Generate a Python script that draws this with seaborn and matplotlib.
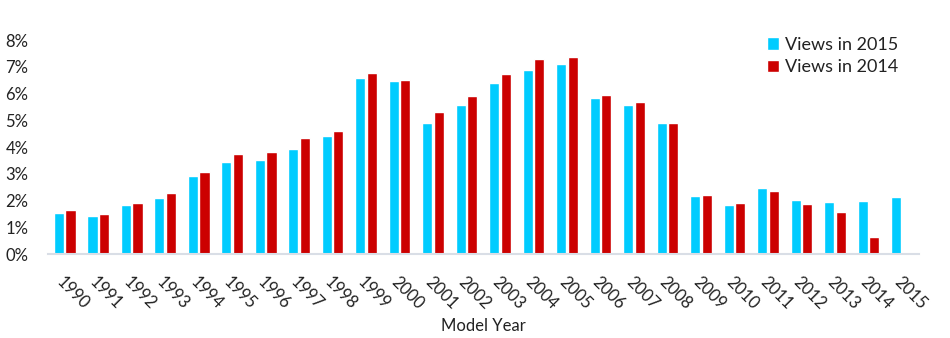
import numpy as np
import pandas as pd
import matplotlib
matplotlib.use("Agg")
import matplotlib.pyplot as plt
import seaborn as sns
from matplotlib.ticker import FuncFormatter

years = [str(y) for y in range(1990, 2016)]
views_2015 = [1.54, 1.43, 1.82, 2.10, 2.93, 3.45, 3.52, 3.94, 4.42, 6.59,
              6.48, 4.88, 5.59, 6.40, 6.88, 7.09, 5.85, 5.58, 4.89, 2.16,
              1.84, 2.48, 2.03, 1.95, 1.98, 2.15]
views_2014 = [1.63, 1.51, 1.92, 2.28, 3.08, 3.74, 3.82, 4.34, 4.61, 6.75,
              6.52, 5.32, 5.89, 6.74, 7.31, 7.38, 5.94, 5.69, 4.89, 2.22,
              1.92, 2.36, 1.87, 1.57, 0.65, np.nan]
series_names = ["Views in 2015", "Views in 2014"]
colors = ["#00CCFF", "#CC0000"]
y_ticks = [0, 1, 2, 3, 4, 5, 6, 7, 8]

df = pd.DataFrame({
    "year": years * 2,
    "value": views_2015 + views_2014,
    "series": [series_names[0]] * len(years) + [series_names[1]] * len(years),
})

sns.set_theme(style="white")
plt.rcParams["font.family"] = ["Lato", "DejaVu Sans"]

fig = plt.figure(figsize=(9.5, 3.38), dpi=100)
ax = fig.add_axes([0.0505, 0.2485, 0.9165, 0.633])

sns.barplot(data=df, x="year", y="value", hue="series", order=years,
            hue_order=series_names, palette=colors, width=0.69, gap=0.12,
            saturation=1, ax=ax, legend=True)

ax.set_ylim(0, 8)
ax.set_yticks(y_ticks)
ax.yaxis.set_major_formatter(FuncFormatter(lambda v, p: f"{int(round(v))}%"))
ax.set_xlim(-0.5, len(years) - 0.5)

for s in ["top", "right", "left"]:
    ax.spines[s].set_visible(False)
ax.spines["bottom"].set_color("#D9DEE6")
ax.spines["bottom"].set_linewidth(1.5)

ax.tick_params(axis="y", length=0, labelsize=12, colors="#222222", pad=14)
ax.tick_params(axis="x", length=0, labelsize=12, colors="#222222", pad=14)
for lbl in ax.get_xticklabels():
    lbl.set_rotation(-45)
    lbl.set_horizontalalignment("left")
    lbl.set_rotation_mode("anchor")

ax.set_ylabel("")
ax.set_xlabel("Model Year", fontsize=12, color="#222222", labelpad=4)

leg = ax.legend(loc="upper right", bbox_to_anchor=(0.995, 1.09), frameon=False,
                fontsize=13, handlelength=0.7, handleheight=0.7,
                handletextpad=0.3, labelspacing=0.35)
for t in leg.get_texts():
    t.set_color("#222222")

fig.savefig("out.png", dpi=100)
